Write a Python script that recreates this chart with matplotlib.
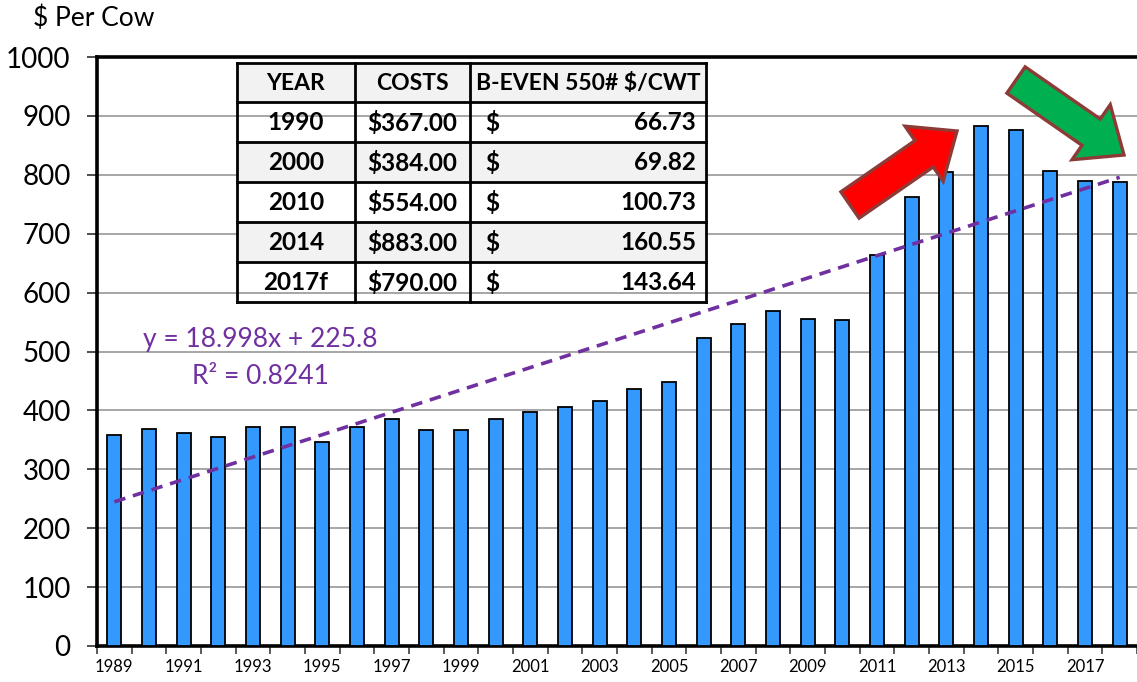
import matplotlib
matplotlib.use("Agg")
import matplotlib.pyplot as plt
from matplotlib.patches import Rectangle, Polygon
import numpy as np

# ---------------- data ----------------
years = list(range(1989, 2019))
costs = [358, 368, 362, 355, 372, 372, 347, 371, 386, 366,
         366, 385, 397, 405, 416, 436, 449, 523, 546, 568,
         555, 554, 663, 762, 804, 883, 876, 806, 790, 788]
trend_slope = 18.998
trend_intercept = 225.8
trend_label = "y = 18.998x + 225.8"
r2_label = "R² = 0.8241"

table_header = ["YEAR", "COSTS", "B-EVEN 550# $/CWT"]
table_years = ["1990", "2000", "2010", "2014", "2017f"]
table_costs = ["$367.00", "$384.00", "$554.00", "$883.00", "$790.00"]
table_beven = ["66.73", "69.82", "100.73", "160.55", "143.64"]

y_ticks = list(range(0, 1001, 100))
ylabel_text = "$ Per Cow"

# ---------------- style ----------------
FONT = ["Lato", "DejaVu Sans"]
plt.rcParams["font.family"] = FONT
BAR_COLOR = "#3399FF"
PURPLE = "#7030A0"
GRID = "#A6A6A6"

W, H = 1137, 682
fig = plt.figure(figsize=(W / 100, H / 100), dpi=100)
ax = fig.add_axes([97 / W, 1 - 646 / H, (W - 97) / W, 589 / H])

x = np.arange(len(years))
ax.bar(x, costs, width=0.4, color=BAR_COLOR, edgecolor="black", linewidth=1.3, zorder=3)

# trendline (Excel style, x = 1..n)
xi = np.arange(1, len(years) + 1)
ax.plot(x, trend_slope * xi + trend_intercept, color=PURPLE, lw=2.6,
        ls=(0, (3.2, 2.2)), zorder=4)

ax.set_ylim(0, 1000)
ax.set_xlim(-0.46, len(years) - 1 + 0.26)
ax.set_yticks(y_ticks)
ax.set_yticklabels([str(v) for v in y_ticks], fontsize=20)
ax.tick_params(axis="y", length=7, width=1.3, color="#404040", pad=12)
ax.yaxis.grid(True, color=GRID, lw=1.4, zorder=0)
ax.set_axisbelow(True)

# x ticks: marks at boundaries, labels at bar centers every other year
ax.set_xticks(np.arange(-0.5, len(years), 1.0))
ax.set_xticklabels([])
ax.tick_params(axis="x", which="major", length=6, width=1.2, color="#404040")
ax.set_xticks(x[::2], minor=True)
ax.set_xticklabels([str(y) for y in years[::2]], minor=True, fontsize=12)
ax.tick_params(axis="x", which="minor", length=0, pad=9)

for s in ["left", "bottom", "top"]:
    ax.spines[s].set_linewidth(2.6)
    ax.spines[s].set_color("black")
ax.spines["right"].set_visible(False)

# ---------------- overlay in pixel coords ----------------
ov = fig.add_axes([0, 0, 1, 1], facecolor="none")
ov.set_xlim(0, W)
ov.set_ylim(H, 0)
ov.axis("off")

ov.text(33, 18, ylabel_text, fontsize=19, ha="left", va="center")

# table
col_x = [237, 355, 470, 706]
row_y = [63, 102, 142, 182, 222, 262, 302]
fills = ["#F2F2F2", None, "#F2F2F2", None, "#F2F2F2", None]
for i, f in enumerate(fills):
    if f:
        ov.add_patch(Rectangle((col_x[0], row_y[i]), col_x[-1] - col_x[0],
                               row_y[i + 1] - row_y[i], facecolor=f, edgecolor="none", zorder=1))
for yy in row_y:
    ov.plot([col_x[0], col_x[-1]], [yy, yy], color="black", lw=2.0, zorder=2, solid_capstyle="projecting")
for xx in col_x:
    ov.plot([xx, xx], [row_y[0], row_y[-1]], color="black", lw=2.0, zorder=2, solid_capstyle="projecting")

tfs = 17.5
def cy(i):
    return (row_y[i] + row_y[i + 1]) / 2 + 1

for j, h in enumerate(table_header):
    ov.text((col_x[j] + col_x[j + 1]) / 2, cy(0), h, fontsize=16.5, fontweight="bold",
            ha="center", va="center", zorder=3)
for i in range(len(table_years)):
    ov.text((col_x[0] + col_x[1]) / 2, cy(i + 1), table_years[i], fontsize=tfs,
            fontweight="bold", ha="center", va="center", zorder=3)
    ov.text((col_x[1] + col_x[2]) / 2, cy(i + 1), table_costs[i], fontsize=tfs,
            fontweight="bold", ha="center", va="center", zorder=3)
    ov.text(col_x[2] + 15, cy(i + 1), "$", fontsize=tfs, fontweight="bold",
            ha="left", va="center", zorder=3)
    ov.text(col_x[3] - 10, cy(i + 1), table_beven[i], fontsize=tfs, fontweight="bold",
            ha="right", va="center", zorder=3)

# trend equation
ov.text(260, 340, trend_label, fontsize=19, color=PURPLE, ha="center", va="center")
ov.text(260, 376, r2_label, fontsize=19, color=PURPLE, ha="center", va="center")

# arrows
def block_arrow(tail, tip, shaft_w, head_w, head_len, fc):
    tail = np.array(tail, float)
    tip = np.array(tip, float)
    d = tip - tail
    L = np.hypot(*d)
    u = d / L
    n = np.array([-u[1], u[0]])
    base = tip - u * head_len
    pts = [tail + n * shaft_w / 2, base + n * shaft_w / 2, base + n * head_w / 2, tip,
           base - n * head_w / 2, base - n * shaft_w / 2, tail - n * shaft_w / 2]
    ov.add_patch(Polygon(pts, closed=True, facecolor=fc, edgecolor="#8E3B37",
                         lw=2.4, joinstyle="miter", zorder=5))

block_arrow((850, 205), (957, 131), 32, 67, 40, "#FF0000")
block_arrow((1016, 80), (1124, 155), 32, 67, 40, "#00B050")

fig.savefig("out.png", dpi=100)
